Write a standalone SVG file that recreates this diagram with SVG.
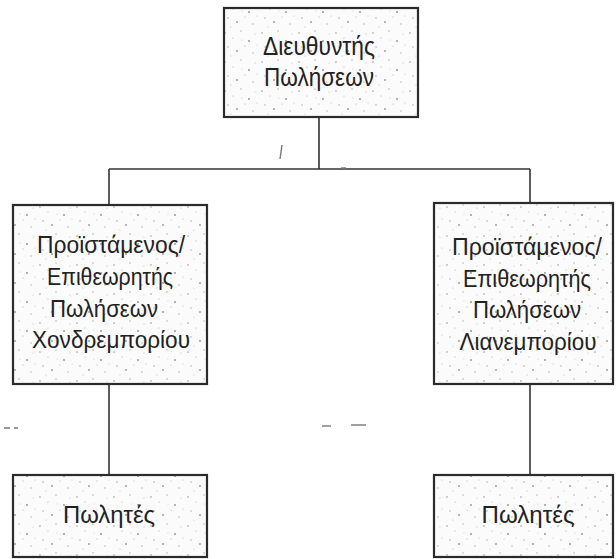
<svg xmlns="http://www.w3.org/2000/svg" width="616" height="559" viewBox="0 0 616 559">
  <defs>
    <pattern id="speckle" width="37" height="29" patternUnits="userSpaceOnUse">
      <rect width="37" height="29" fill="#fbfbfb"/>
      <circle cx="3" cy="4" r="0.8" fill="#9a9a9a"/>
      <circle cx="11" cy="9" r="0.6" fill="#b0b0b0"/>
      <circle cx="19" cy="2" r="0.7" fill="#a5a5a5"/>
      <circle cx="27" cy="12" r="0.9" fill="#8f8f8f"/>
      <circle cx="33" cy="5" r="0.6" fill="#bdbdbd"/>
      <circle cx="6" cy="18" r="0.7" fill="#a0a0a0"/>
      <circle cx="15" cy="22" r="0.9" fill="#959595"/>
      <circle cx="23" cy="17" r="0.6" fill="#b5b5b5"/>
      <circle cx="31" cy="24" r="0.7" fill="#a8a8a8"/>
      <circle cx="9" cy="27" r="0.6" fill="#c0c0c0"/>
      <circle cx="35" cy="16" r="0.5" fill="#b8b8b8"/>
      <circle cx="20" cy="11" r="0.5" fill="#c2c2c2"/>
    </pattern>
  </defs>
  <style>
    .box { fill: url(#speckle); stroke: #2b2b2b; stroke-width: 2.2; }
    .lbl { font-family: "Liberation Sans", "DejaVu Sans", sans-serif; fill: #222; text-anchor: middle; }
    .conn { stroke: #333; stroke-width: 1.6; fill: none; }
    .noise { stroke: #777; stroke-width: 1.4; fill: none; }
  </style>
  <rect width="616" height="559" fill="#ffffff"/>

  <g id="connectors">
    <path class="conn" d="M319 117 V169"/>
    <path class="conn" d="M109 169 H530"/>
    <path class="conn" d="M109 169 V205"/>
    <path class="conn" d="M530 169 V203"/>
    <path class="conn" d="M109 384 V475"/>
    <path class="conn" d="M530 384 V475"/>
  </g>

  <g id="marks">
    <path class="noise" d="M282 145 L280 159"/>
    <path class="noise" d="M341 168 H346"/>
    <path class="noise" d="M322 426 H331"/>
    <path class="noise" d="M351 425 H366"/>
    <path class="noise" d="M4 428 H10 M14 428 H18"/>
  </g>

  <g id="director">
    <rect class="box" x="224" y="8" width="194" height="109"/>
    <text class="lbl" x="319" y="55" font-size="25" textLength="112" lengthAdjust="spacingAndGlyphs">Διευθυντής</text>
    <text class="lbl" x="319" y="86" font-size="25" textLength="110" lengthAdjust="spacingAndGlyphs">Πωλήσεων</text>
  </g>

  <g id="wholesale-supervisor">
    <rect class="box" x="13" y="205" width="194" height="179"/>
    <text class="lbl" x="111" y="253" font-size="23" textLength="148" lengthAdjust="spacingAndGlyphs">Προϊστάμενος/</text>
    <text class="lbl" x="110" y="285" font-size="23" textLength="126" lengthAdjust="spacingAndGlyphs">Επιθεωρητής</text>
    <text class="lbl" x="104" y="317" font-size="23" textLength="108" lengthAdjust="spacingAndGlyphs">Πωλήσεων</text>
    <text class="lbl" x="111" y="348" font-size="23" textLength="158" lengthAdjust="spacingAndGlyphs">Χονδρεμπορίου</text>
  </g>

  <g id="retail-supervisor">
    <rect class="box" x="434" y="203" width="179" height="181"/>
    <text class="lbl" x="527" y="255" font-size="23" textLength="150" lengthAdjust="spacingAndGlyphs">Προϊστάμενος/</text>
    <text class="lbl" x="527" y="287" font-size="23" textLength="128" lengthAdjust="spacingAndGlyphs">Επιθεωρητής</text>
    <text class="lbl" x="527" y="318" font-size="23" textLength="108" lengthAdjust="spacingAndGlyphs">Πωλήσεων</text>
    <text class="lbl" x="528" y="350" font-size="23" textLength="137" lengthAdjust="spacingAndGlyphs">Λιανεμπορίου</text>
  </g>

  <g id="wholesale-salespeople">
    <rect class="box" x="13" y="475" width="194" height="82"/>
    <text class="lbl" x="109" y="523" font-size="24" textLength="92" lengthAdjust="spacingAndGlyphs">Πωλητές</text>
  </g>

  <g id="retail-salespeople">
    <rect class="box" x="434" y="475" width="179" height="82"/>
    <text class="lbl" x="528" y="523" font-size="24" textLength="93" lengthAdjust="spacingAndGlyphs">Πωλητές</text>
  </g>
</svg>
